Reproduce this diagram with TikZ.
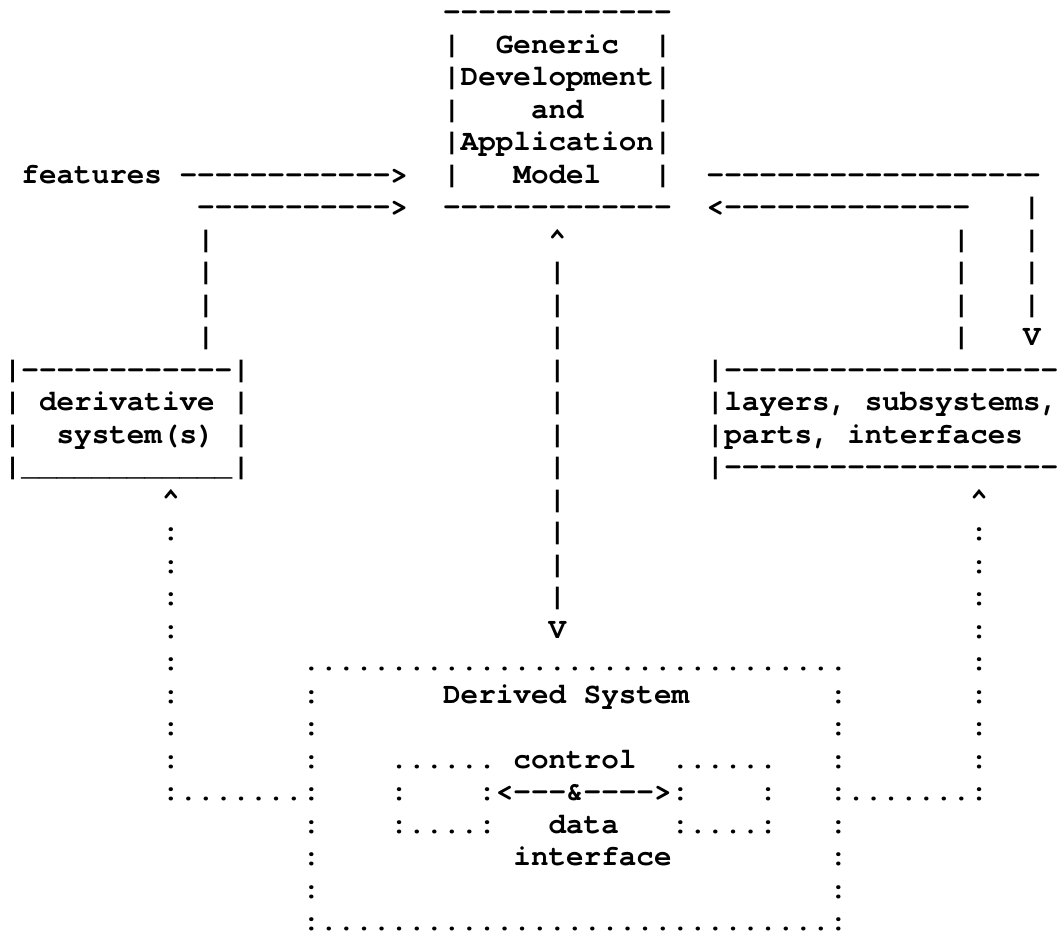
\documentclass[tikz,border=0pt]{standalone}
\usepackage{fontspec}
\setmonofont{texgyrecursor}[Extension=.otf, UprightFont=*-regular, BoldFont=*-bold, ItalicFont=*-italic, BoldItalicFont=*-bolditalic]
\frenchspacing

% one character cell = one x unit, one text line = one y unit
\newcommand{\artfont}{\ttfamily\bfseries\fontsize{29.285pt}{32.5pt}\selectfont}
\tikzset{ascii/.style={anchor=base west, inner sep=0pt, outer sep=0pt, font=\artfont}}

\begin{document}
\begin{tikzpicture}[x=17.571pt, y=-32.5pt]
\useasboundingbox (-0.222,-0.64) rectangle (59.935,28.16);

% 1. Generic model box at the top
\node[ascii] (gtop) at (25,0) {-------------};
\node[ascii] (gl1) at (25,1) {|};
\node[ascii] (generic) at (28,1) {Generic};
\node[ascii] (gr1) at (37,1) {|};
\node[ascii] (develop) at (25,2) {|Development|};
\node[ascii] (gl3) at (25,3) {|};
\node[ascii] (andtxt) at (30,3) {and};
\node[ascii] (gr3) at (37,3) {|};
\node[ascii] (applic) at (25,4) {|Application|};
\node[ascii] (gl5) at (25,5) {|};
\node[ascii] (model) at (29,5) {Model};
\node[ascii] (gr5) at (37,5) {|};
\node[ascii] (gbot) at (25,6) {-------------};

% 2. Arrows into and out of the model box
\node[ascii] (features) at (1,5) {features};
\node[ascii] (featarrow) at (10,5) {------------>};
\node[ascii] (derivarrow) at (11,6) {----------->};
\node[ascii] (outline) at (40,5) {-------------------};
\node[ascii] (backarrow) at (40,6) {<--------------};
\node[ascii] (upcaret) at (31,7) {\textasciicircum};
\node[ascii] (cdown) at (31,19) {V};
\node[ascii] (rdown) at (58,10) {V};

% vertical runs
\foreach \r in {7,...,10} \node[ascii] (lbar\r) at (11,\r) {|};
\foreach \r in {8,...,18} \node[ascii] (cbar\r) at (31,\r) {|};
\foreach \r in {7,...,10} \node[ascii] (ibar\r) at (54,\r) {|};
\foreach \r in {6,...,9} \node[ascii] (rbar\r) at (58,\r) {|};

% 3. Derivative system(s) box
\node[ascii] (dtop) at (0,11) {|------------|};
\node[ascii] (dl12) at (0,12) {|};
\node[ascii] (derivative) at (2,12) {derivative};
\node[ascii] (dr12) at (13,12) {|};
\node[ascii] (dl13) at (0,13) {|};
\node[ascii] (systems) at (3,13) {system(s)};
\node[ascii] (dr13) at (13,13) {|};
\node[ascii] (dbot) at (0,14) {|\_\_\_\_\_\_\_\_\_\_\_\_|};

% 4. Layers box on the right
\node[ascii] (ltop) at (40,11) {|-------------------};
\node[ascii] (layers) at (40,12) {|layers, subsystems,};
\node[ascii] (parts) at (40,13) {|parts, interfaces};
\node[ascii] (lbot) at (40,14) {|-------------------};

% 5. Dotted links up from the derived system
\node[ascii] (dcaret) at (9,15) {\textasciicircum};
\node[ascii] (lcaret) at (55,15) {\textasciicircum};
\foreach \r in {16,...,23} \node[ascii] (ldot\r) at (9,\r) {:};
\foreach \r in {16,...,23} \node[ascii] (rdot\r) at (55,\r) {:};
\node[ascii] (leftjoin) at (9,24) {:.......:};
\node[ascii] (rightjoin) at (47,24) {:.......:};

% 6. Derived System box
\node[ascii] (xtop) at (17,20) {...............................};
\foreach \r in {21,22,23,25,26,27} {
  \node[ascii] (xl\r) at (17,\r) {:};
  \node[ascii] (xr\r) at (47,\r) {:};
}
\node[ascii] (derived) at (25,21) {Derived System};
\node[ascii] (xbot) at (17,28) {:.............................:};

% 7. control & data interface inside
\node[ascii] (ctlleft) at (22,23) {......};
\node[ascii] (control) at (29,23) {control};
\node[ascii] (ctlright) at (38,23) {......};
\node[ascii] (ifl24) at (22,24) {:};
\node[ascii] (ctlarrow) at (27,24) {:<---\&---->:};
\node[ascii] (ifr24) at (43,24) {:};
\node[ascii] (dataleft) at (22,25) {:....:};
\node[ascii] (data) at (31,25) {data};
\node[ascii] (dataright) at (38,25) {:....:};
\node[ascii] (interface) at (29,26) {interface};

\end{tikzpicture}
\end{document}
